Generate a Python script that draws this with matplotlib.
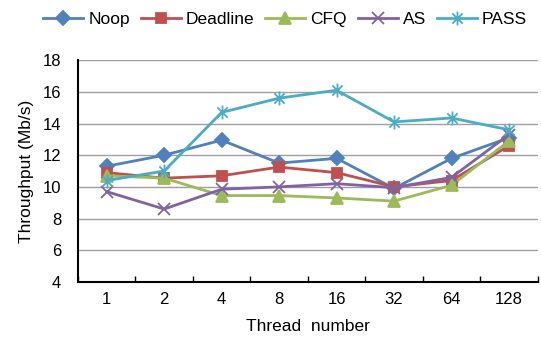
import matplotlib
matplotlib.use("Agg")
import matplotlib.pyplot as plt
from matplotlib.path import Path

plt.rcParams["font.family"] = ["Liberation Sans", "DejaVu Sans"]

# 数据
threads = ["1", "2", "4", "8", "16", "32", "64", "128"]
noop = [11.3, 12.0, 12.95, 11.5, 11.8, 9.9, 11.8, 13.1]
deadline = [10.9, 10.55, 10.7, 11.25, 10.9, 10.0, 10.4, 12.6]
cfq = [10.7, 10.55, 9.45, 9.45, 9.3, 9.1, 10.1, 12.9]
as_ = [9.7, 8.6, 9.85, 10.0, 10.2, 9.95, 10.6, 13.3]
pass_ = [10.4, 11.0, 14.7, 15.6, 16.1, 14.1, 14.35, 13.6]

# 星号标记 (X + 竖线)
star = Path([(-1, -1), (1, 1), (-1, 1), (1, -1), (0, -1.35), (0, 1.35)],
            [Path.MOVETO, Path.LINETO, Path.MOVETO, Path.LINETO, Path.MOVETO, Path.LINETO])

series = [
    ("Noop", noop, "#4F81BD", "D", 7),
    ("Deadline", deadline, "#C0504D", "s", 7.5),
    ("CFQ", cfq, "#9BBB59", "^", 8.5),
    ("AS", as_, "#8064A2", "x", 9),
    ("PASS", pass_, "#4BACC6", star, 10),
]

fig = plt.figure(figsize=(5.41, 3.38), dpi=100)
ax = fig.add_axes([0.144, 0.166, 0.85, 0.656])

x = list(range(len(threads)))
for name, vals, col, mk, ms in series:
    ax.plot(x, vals, color=col, lw=2, marker=mk, ms=ms, mew=1.3,
            mfc=col, mec=col, label=name)

ax.set_xlim(-0.5, len(threads) - 0.5)
ax.set_ylim(4, 18)
ax.set_yticks(range(4, 19, 2))
ax.set_xticks(x)
ax.set_xticklabels(threads)
ax.set_xticks([i - 0.5 for i in range(len(threads) + 1)], minor=True)
ax.tick_params(axis="x", which="major", length=0, labelsize=12, pad=7)
ax.tick_params(axis="x", which="minor", direction="in", length=4, width=1)
ax.tick_params(axis="y", length=0, labelsize=12, pad=12)
ax.grid(axis="y", color="#A0A0A0", lw=1)
ax.set_axisbelow(True)
for s in ["top", "right"]:
    ax.spines[s].set_visible(False)
ax.spines["left"].set_linewidth(1.5)
ax.spines["bottom"].set_linewidth(1.5)

ax.set_xlabel("Thread  number", fontsize=12.5, labelpad=9)
ax.set_ylabel("Throughput (Mb/s)", fontsize=12.5, labelpad=6)

fig.legend(loc="upper center", bbox_to_anchor=(0.527, 1.01), ncol=5, frameon=False,
           fontsize=12.5, handlelength=2.3, columnspacing=0.62, handletextpad=0.3)

fig.savefig("out.png", dpi=100)
